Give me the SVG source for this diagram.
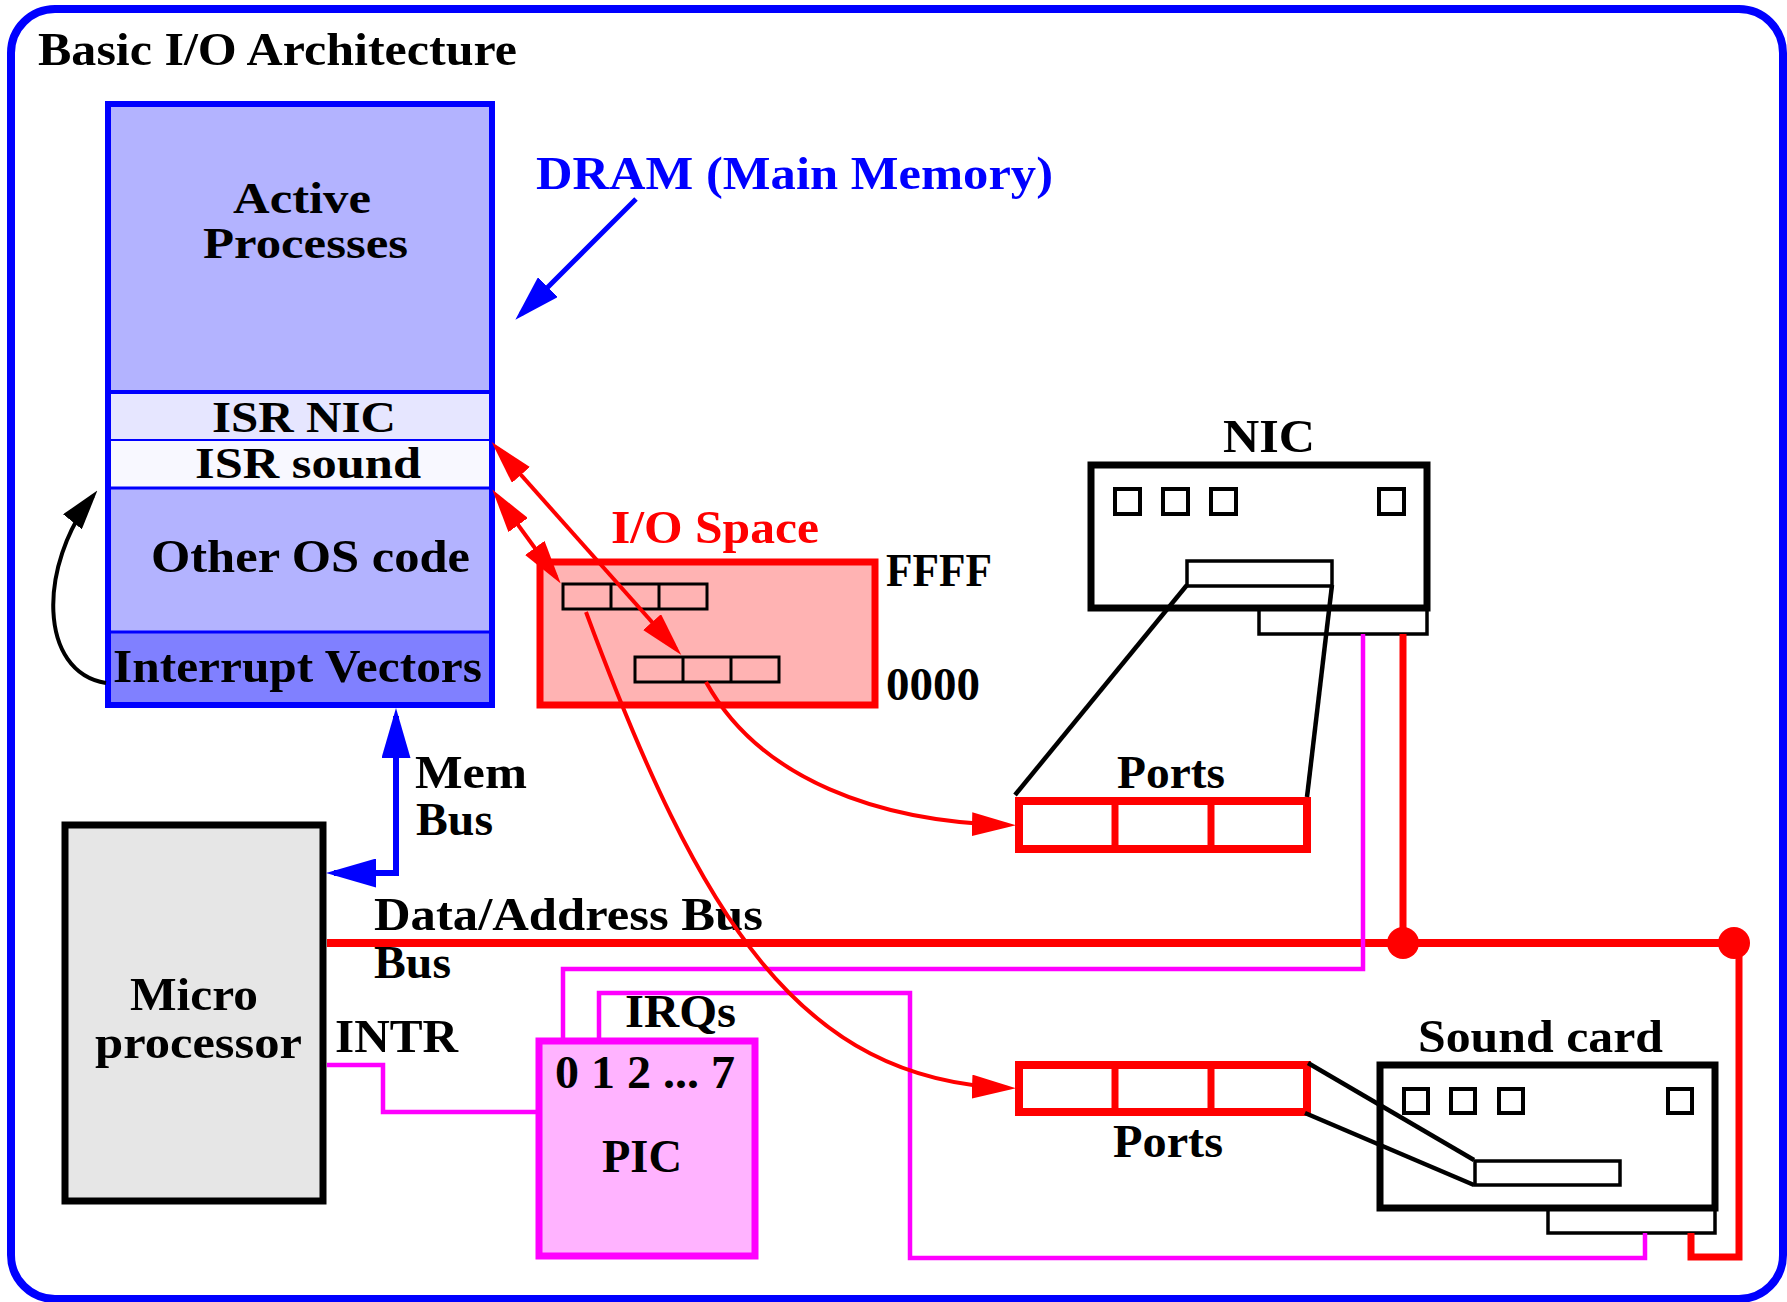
<svg xmlns="http://www.w3.org/2000/svg" width="1787" height="1302" viewBox="0 0 1787 1302">
  <defs>
    <style>
      text { font-family: "Liberation Serif", "Times New Roman", serif; font-weight: bold; font-size: 47px; fill: #000; }
      .tight { font-size: 45px; }
      .blue-t { fill: #0000ff; }
      .red-t { fill: #ff0000; }
      .frame { fill: none; stroke: #0000ff; stroke-width: 8; }
      .dram { fill: none; stroke: #0000ff; stroke-width: 6; }
      .sep { stroke: #0000ff; }
      .box { fill: #fff; stroke: #000; stroke-width: 7; }
      .led { fill: none; stroke: #000; stroke-width: 4; }
      .slot { fill: #fff; stroke: #000; stroke-width: 3.5; }
      .reg { fill: none; stroke: #000; stroke-width: 3; }
      .port { fill: #fff; stroke: #ff0000; stroke-width: 8; }
      .portdiv { stroke: #ff0000; stroke-width: 7; }
      .lead { fill: none; stroke: #000; stroke-width: 4.5; }
      .bus { fill: none; stroke: #ff0000; stroke-width: 8; }
      .redw { fill: none; stroke: #ff0000; stroke-width: 7; }
      .irq { fill: none; stroke: #ff00ff; stroke-width: 4.5; }
      .map { fill: none; stroke: #ff0000; stroke-width: 4; }
      .membus { fill: none; stroke: #0000ff; stroke-width: 6; }
    </style>
    <marker id="ahBlue" markerUnits="userSpaceOnUse" viewBox="0 0 50 29" markerWidth="50" markerHeight="29" refX="42" refY="14.5" orient="auto-start-reverse">
      <path d="M0,0 L50,14.5 L0,29 z" fill="#0000ff"/>
    </marker>
    <marker id="ahBlueS" markerUnits="userSpaceOnUse" viewBox="0 0 46 28" markerWidth="46" markerHeight="28" refX="38" refY="14" orient="auto">
      <path d="M0,0 L46,14 L0,28 z" fill="#0000ff"/>
    </marker>
    <marker id="ahRed" markerUnits="userSpaceOnUse" viewBox="0 0 44 24" markerWidth="44" markerHeight="24" refX="36" refY="12" orient="auto-start-reverse">
      <path d="M0,0 L44,12 L0,24 z" fill="#ff0000"/>
    </marker>
    <marker id="ahBlack" markerUnits="userSpaceOnUse" viewBox="0 0 40 24" markerWidth="40" markerHeight="24" refX="33" refY="12" orient="auto">
      <path d="M0,0 L40,12 L0,24 z" fill="#000"/>
    </marker>
  </defs>

  <rect x="0" y="0" width="1787" height="1302" fill="#fff"/>

  <!-- outer frame and title -->
  <g id="frame">
    <rect class="frame" x="11" y="9" width="1772" height="1290" rx="44"/>
    <text x="38" y="65" textLength="479" lengthAdjust="spacingAndGlyphs">Basic I/O Architecture</text>
  </g>

  <!-- main memory stack -->
  <g id="dram">
    <rect x="108" y="104" width="384" height="288" fill="#b3b3ff"/>
    <rect x="108" y="392" width="384" height="48" fill="#e6e6ff"/>
    <rect x="108" y="440" width="384" height="48" fill="#f8f8ff"/>
    <rect x="108" y="488" width="384" height="144" fill="#b3b3ff"/>
    <rect x="108" y="632" width="384" height="73" fill="#8080ff"/>
    <line class="sep" x1="108" y1="392" x2="492" y2="392" stroke-width="4"/>
    <line class="sep" x1="108" y1="440" x2="492" y2="440" stroke-width="2"/>
    <line class="sep" x1="108" y1="488" x2="492" y2="488" stroke-width="3"/>
    <line class="sep" x1="108" y1="632" x2="492" y2="632" stroke-width="3"/>
    <rect class="dram" x="108" y="104" width="384" height="601"/>
    <text class="tight" x="233" y="213" textLength="138" lengthAdjust="spacingAndGlyphs">Active</text>
    <text class="tight" x="203" y="258" textLength="205" lengthAdjust="spacingAndGlyphs">Processes</text>
    <text class="tight" x="212" y="432" textLength="184" lengthAdjust="spacingAndGlyphs">ISR NIC</text>
    <text class="tight" x="195" y="478" textLength="226" lengthAdjust="spacingAndGlyphs">ISR sound</text>
    <text x="151" y="572" textLength="319" lengthAdjust="spacingAndGlyphs">Other OS code</text>
    <text x="113" y="682" textLength="369" lengthAdjust="spacingAndGlyphs">Interrupt Vectors</text>
  </g>

  <g id="dram-label">
    <text class="blue-t" x="536" y="189" textLength="517" lengthAdjust="spacingAndGlyphs">DRAM (Main Memory)</text>
  </g>

  <!-- I/O address space -->
  <g id="io-space">
    <rect x="540" y="562" width="335" height="143" fill="#ffb3b3" stroke="#ff0000" stroke-width="7"/>
    <rect class="reg" x="563" y="584" width="144" height="25"/>
    <line class="reg" x1="611" y1="584" x2="611" y2="609"/>
    <line class="reg" x1="659" y1="584" x2="659" y2="609"/>
    <rect class="reg" x="635" y="657" width="144" height="25"/>
    <line class="reg" x1="683" y1="657" x2="683" y2="682"/>
    <line class="reg" x1="731" y1="657" x2="731" y2="682"/>
    <text class="red-t" x="611" y="543" textLength="208" lengthAdjust="spacingAndGlyphs">I/O Space</text>
    <text x="886" y="586" textLength="106" lengthAdjust="spacingAndGlyphs">FFFF</text>
    <text x="886" y="700" textLength="94" lengthAdjust="spacingAndGlyphs">0000</text>
  </g>

  <!-- network card -->
  <g id="nic">
    <rect class="slot" x="1259" y="608" width="168" height="26" stroke-width="4"/>
    <rect class="box" x="1091" y="465" width="336" height="143"/>
    <rect class="led" x="1115" y="489" width="25" height="25"/>
    <rect class="led" x="1163" y="489" width="25" height="25"/>
    <rect class="led" x="1211" y="489" width="25" height="25"/>
    <rect class="led" x="1379" y="489" width="25" height="25"/>
    <rect class="slot" x="1187" y="561" width="145" height="25"/>
    <text x="1223" y="452" textLength="92" lengthAdjust="spacingAndGlyphs">NIC</text>
  </g>

  <g id="nic-ports">
    <rect class="port" x="1019" y="801" width="288" height="48"/>
    <line class="portdiv" x1="1115" y1="801" x2="1115" y2="849"/>
    <line class="portdiv" x1="1211" y1="801" x2="1211" y2="849"/>
    <text x="1117" y="788" textLength="108" lengthAdjust="spacingAndGlyphs">Ports</text>
  </g>

  <!-- sound card -->
  <g id="sound-card">
    <rect class="slot" x="1548" y="1208" width="167" height="25" stroke-width="4"/>
    <rect class="box" x="1380" y="1065" width="335" height="143"/>
    <rect class="led" x="1404" y="1089" width="24" height="24"/>
    <rect class="led" x="1451" y="1089" width="24" height="24"/>
    <rect class="led" x="1499" y="1089" width="24" height="24"/>
    <rect class="led" x="1668" y="1089" width="24" height="24"/>
    <rect class="slot" x="1475" y="1161" width="145" height="24"/>
    <text x="1418" y="1052" textLength="245" lengthAdjust="spacingAndGlyphs">Sound card</text>
  </g>

  <g id="sound-ports">
    <rect class="port" x="1019" y="1065" width="288" height="47"/>
    <line class="portdiv" x1="1115" y1="1065" x2="1115" y2="1112"/>
    <line class="portdiv" x1="1211" y1="1065" x2="1211" y2="1112"/>
    <text x="1113" y="1157" textLength="110" lengthAdjust="spacingAndGlyphs">Ports</text>
  </g>

  <!-- processor -->
  <g id="cpu">
    <rect x="65" y="825" width="258" height="376" fill="#e6e6e6" stroke="#000" stroke-width="7"/>
    <text x="130" y="1010" textLength="128" lengthAdjust="spacingAndGlyphs">Micro</text>
    <text x="95" y="1058" textLength="207" lengthAdjust="spacingAndGlyphs">processor</text>
  </g>

  <!-- interrupt controller -->
  <g id="pic">
    <rect x="539" y="1041" width="216" height="215" fill="#ffb3ff" stroke="#ff00ff" stroke-width="7"/>
    <text x="555" y="1088" textLength="180" lengthAdjust="spacingAndGlyphs">0 1 2 ... 7</text>
    <text x="602" y="1172" textLength="80" lengthAdjust="spacingAndGlyphs">PIC</text>
  </g>

  <!-- wiring -->
  <g id="connectors">
    <!-- slot leads to port registers -->
    <line class="lead" x1="1187" y1="585" x2="1015" y2="795"/>
    <line class="lead" x1="1332" y1="585" x2="1307" y2="797"/>
    <line class="lead" x1="1308" y1="1063" x2="1474" y2="1160"/>
    <line class="lead" x1="1305" y1="1113" x2="1474" y2="1185"/>

    <!-- system bus -->
    <line class="bus" x1="327" y1="943" x2="1734" y2="943"/>
    <line class="redw" x1="1403" y1="634" x2="1403" y2="943"/>
    <path class="redw" d="M1739,943 L1739,1257 L1691,1257 L1691,1233"/>
    <circle cx="1403" cy="943" r="16" fill="#ff0000"/>
    <circle cx="1734" cy="943" r="16" fill="#ff0000"/>

    <!-- interrupt request lines -->
    <path class="irq" d="M563,1038 L563,969 L1363,969 L1363,634"/>
    <path class="irq" d="M599,1038 L599,993 L910,993 L910,1258 L1645,1258 L1645,1233"/>
    <path class="irq" d="M327,1065 L383,1065 L383,1112 L536,1112"/>

    <!-- memory bus and label -->
    <path class="membus" d="M334,873 L396,873 L396,716" marker-start="url(#ahBlue)" marker-end="url(#ahBlue)"/>
    <text x="415" y="788" textLength="112" lengthAdjust="spacingAndGlyphs">Mem</text>
    <text x="416" y="835" textLength="77" lengthAdjust="spacingAndGlyphs">Bus</text>

    <text x="374" y="930" textLength="389" lengthAdjust="spacingAndGlyphs">Data/Address Bus</text>
    <text x="374" y="978" textLength="77" lengthAdjust="spacingAndGlyphs">Bus</text>
    <text x="335" y="1052" textLength="123" lengthAdjust="spacingAndGlyphs">INTR</text>
    <text x="625" y="1027" textLength="111" lengthAdjust="spacingAndGlyphs">IRQs</text>

    <!-- DRAM pointer -->
    <line x1="636" y1="199" x2="521" y2="314" stroke="#0000ff" stroke-width="5" marker-end="url(#ahBlueS)"/>

    <!-- vector lookup -->
    <path d="M106,683 C38,672 38,565 93,496" fill="none" stroke="#000" stroke-width="4" marker-end="url(#ahBlack)"/>

    <!-- ISR to I/O register mappings -->
    <line class="map" x1="497" y1="448" x2="676" y2="649" marker-start="url(#ahRed)" marker-end="url(#ahRed)"/>
    <line class="map" x1="497" y1="496" x2="556" y2="577" marker-start="url(#ahRed)" marker-end="url(#ahRed)"/>
    <path class="map" d="M706,682 C760,780 880,822 1008,825" marker-end="url(#ahRed)"/>
    <path class="map" d="M586,612 C700,920 800,1080 1008,1088" marker-end="url(#ahRed)"/>
  </g>
</svg>
